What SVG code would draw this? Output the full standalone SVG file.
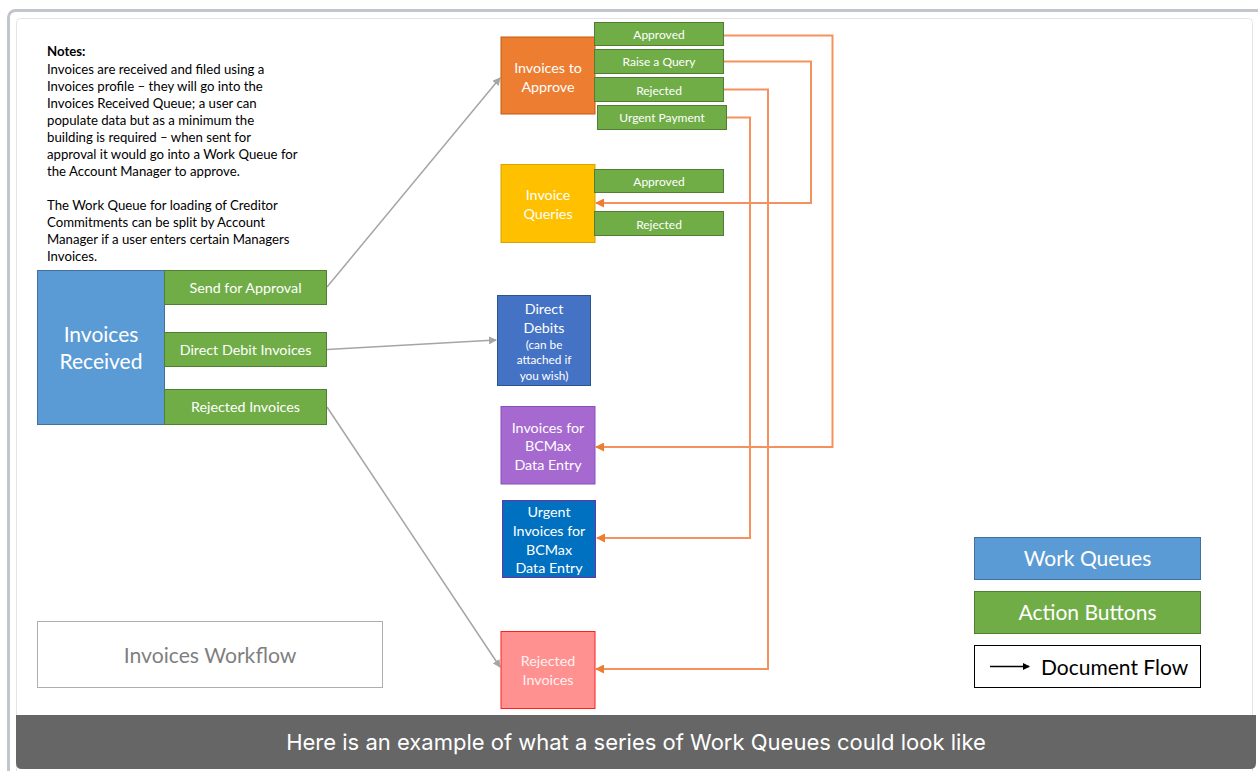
<svg xmlns="http://www.w3.org/2000/svg" width="1258" height="771" viewBox="0 0 1258 771">
<defs>
<style>
.t{font-family:Lato,"Liberation Sans",sans-serif;fill:#fff;text-anchor:middle}
.btn{fill:#70ad47;stroke:#507e32;stroke-width:1}
.note{font-family:Lato,"Liberation Sans",sans-serif;font-size:13.2px;fill:#000}
.gl{fill:none;stroke:#a5a5a5;stroke-width:1.5}
.ol{fill:none;stroke:#f4915c;stroke-width:2}
</style>
<marker id="ag" markerWidth="8" markerHeight="8" refX="7" refY="4" orient="auto" markerUnits="userSpaceOnUse"><path d="M0,0 L8,4 L0,8 Z" fill="#a5a5a5"/></marker>
<marker id="ao" markerWidth="9" markerHeight="9" refX="8" refY="4.5" orient="auto" markerUnits="userSpaceOnUse"><path d="M0,0 L9,4.5 L0,9 Z" fill="#ed7d31"/></marker>
<marker id="ab" markerWidth="7" markerHeight="7" refX="6" refY="3.5" orient="auto" markerUnits="userSpaceOnUse"><path d="M0,0 L7,3.5 L0,7 Z" fill="#000"/></marker>
</defs>
<rect x="0" y="0" width="1258" height="771" fill="#fff"/>
<g id="frame">
<rect x="8.5" y="10.5" width="1262" height="775" rx="7" fill="none" stroke="#c0c6cc" stroke-width="3"/>
<rect x="16.5" y="18.5" width="1236" height="760" rx="4" fill="#fff" stroke="#e2e4e6" stroke-width="1"/>
<path d="M16,715 H1256 V763 Q1256,769 1250,769 H22 Q16,769 16,763 Z" fill="#666"/>
<text x="636" y="749.5" font-family="Inter,'Liberation Sans',sans-serif" font-size="22" fill="#fff" text-anchor="middle">Here is an example of what a series of Work Queues could look like</text>
</g>
<g id="notes">
<text class="note" x="47" y="56" font-weight="bold">Notes:</text>
<text class="note" x="47" y="74">Invoices are received and filed using a</text>
<text class="note" x="47" y="91">Invoices profile – they will go into the</text>
<text class="note" x="47" y="108">Invoices Received Queue; a user can</text>
<text class="note" x="47" y="125">populate data but as a minimum the</text>
<text class="note" x="47" y="142">building is required – when sent for</text>
<text class="note" x="47" y="159">approval it would go into a Work Queue for</text>
<text class="note" x="47" y="176">the Account Manager to approve.</text>
<text class="note" x="47" y="210">The Work Queue for loading of Creditor</text>
<text class="note" x="47" y="227">Commitments can be split by Account</text>
<text class="note" x="47" y="244">Manager if a user enters certain Managers</text>
<text class="note" x="47" y="261">Invoices.</text>
</g>
<g id="connectors">
<line class="gl" x1="327" y1="287" x2="500" y2="78" marker-end="url(#ag)"/>
<line class="gl" x1="327" y1="349.5" x2="496" y2="340" marker-end="url(#ag)"/>
<line class="gl" x1="327" y1="407" x2="500" y2="667" marker-end="url(#ag)"/>
<polyline class="ol" points="724,35.5 832.5,35.5 832.5,447 596,447" marker-end="url(#ao)"/>
<polyline class="ol" points="724,61.5 811,61.5 811,203 596,203" marker-end="url(#ao)"/>
<polyline class="ol" points="724,89.5 768,89.5 768,669 596,669" marker-end="url(#ao)"/>
<polyline class="ol" points="727,117.5 750,117.5 750,538 597,538" marker-end="url(#ao)"/>
</g>
<g id="invoices-received">
<rect x="37.5" y="270.5" width="127" height="154" fill="#5b9bd5" stroke="#41719c"/>
<text class="t" x="101" y="342" font-size="21">Invoices</text>
<text class="t" x="101" y="369" font-size="21">Received</text>
</g>
<g id="btn-send"><rect class="btn" x="164.5" y="270.5" width="162" height="34"/><text class="t" x="245.5" y="292.5" font-size="14.3">Send for Approval</text></g>
<g id="btn-dd"><rect class="btn" x="164.5" y="332.5" width="162" height="34"/><text class="t" x="245.5" y="354.5" font-size="14.3">Direct Debit Invoices</text></g>
<g id="btn-rej"><rect class="btn" x="164.5" y="389.5" width="162" height="35"/><text class="t" x="245.5" y="411.5" font-size="14.3">Rejected Invoices</text></g>
<g id="invoices-to-approve">
<rect x="501" y="37" width="94" height="77" fill="#ed7d31" stroke="#c55a11"/>
<text class="t" x="548" y="73" font-size="14.3">Invoices to</text>
<text class="t" x="548" y="91.5" font-size="14.3">Approve</text>
</g>
<g id="btn-approved"><rect class="btn" x="594.5" y="22.5" width="129" height="23"/><text class="t" x="659" y="38.5" font-size="12">Approved</text></g>
<g id="btn-query"><rect class="btn" x="594.5" y="49.5" width="129" height="24"/><text class="t" x="659" y="66" font-size="12">Raise a Query</text></g>
<g id="btn-rejected"><rect class="btn" x="594.5" y="77.5" width="129" height="24"/><text class="t" x="659" y="95" font-size="12">Rejected</text></g>
<g id="btn-urgent"><rect class="btn" x="597.5" y="105.5" width="129" height="24"/><text class="t" x="662" y="122" font-size="12">Urgent Payment</text></g>
<g id="invoice-queries">
<rect x="501" y="164.5" width="94" height="78" fill="#ffc000" stroke="#d6a300"/>
<text class="t" x="548" y="200" font-size="14.3">Invoice</text>
<text class="t" x="548" y="218.5" font-size="14.3">Queries</text>
</g>
<g id="btn-q-approved"><rect class="btn" x="594.5" y="169.5" width="129" height="23"/><text class="t" x="659" y="186" font-size="12">Approved</text></g>
<g id="btn-q-rejected"><rect class="btn" x="594.5" y="211.5" width="129" height="24"/><text class="t" x="659" y="228.5" font-size="12">Rejected</text></g>
<g id="direct-debits">
<rect x="497.5" y="295.5" width="93" height="90" fill="#4472c4" stroke="#2f528f"/>
<text class="t" x="544" y="314" font-size="14.3">Direct</text>
<text class="t" x="544" y="332.5" font-size="14.3">Debits</text>
<text class="t" x="544" y="348.5" font-size="11.8">(can be</text>
<text class="t" x="544" y="364" font-size="11.8">attached if</text>
<text class="t" x="544" y="380" font-size="11.8">you wish)</text>
</g>
<g id="bcmax">
<rect x="501" y="406.5" width="94" height="77.5" fill="#a569d0" stroke="#8a4fbf"/>
<text class="t" x="548" y="432.5" font-size="14.3">Invoices for</text>
<text class="t" x="548" y="451" font-size="14.3">BCMax</text>
<text class="t" x="548" y="470" font-size="14.3">Data Entry</text>
</g>
<g id="urgent-bcmax">
<rect x="502.5" y="500.5" width="93" height="77" fill="#0070c0" stroke="#7030a0"/>
<text class="t" x="549" y="517" font-size="14.3">Urgent</text>
<text class="t" x="549" y="535.5" font-size="14.3">Invoices for</text>
<text class="t" x="549" y="554.5" font-size="14.3">BCMax</text>
<text class="t" x="549" y="573" font-size="14.3">Data Entry</text>
</g>
<g id="rejected-invoices">
<rect x="501" y="631.5" width="94" height="77" fill="#ff9191" stroke="#ff2020"/>
<text class="t" x="548" y="666" font-size="14.3" style="fill:#fff0f0">Rejected</text>
<text class="t" x="548" y="684.5" font-size="14.3" style="fill:#fff0f0">Invoices</text>
</g>
<g id="title">
<rect x="37.5" y="621.5" width="345" height="66" fill="#fff" stroke="#aeaeae"/>
<text x="210" y="663" font-family="Lato,'Liberation Sans',sans-serif" font-size="21.2" fill="#7f7f7f" text-anchor="middle">Invoices Workflow</text>
</g>
<g id="legend">
<rect x="974.5" y="537.5" width="226" height="42" fill="#5b9bd5" stroke="#41719c"/>
<text class="t" x="1087.5" y="565.5" font-size="21">Work Queues</text>
<rect x="974.5" y="591.5" width="226" height="42" fill="#70ad47" stroke="#507e32"/>
<text class="t" x="1087.5" y="619.5" font-size="21">Action Buttons</text>
<rect x="974.5" y="645.5" width="226" height="42" fill="#fff" stroke="#000"/>
<line x1="990" y1="666.5" x2="1029" y2="666.5" stroke="#000" stroke-width="1.3" marker-end="url(#ab)"/>
<text x="1041" y="674.5" font-family="Lato,'Liberation Sans',sans-serif" font-size="21" fill="#000">Document Flow</text>
</g>
</svg>
